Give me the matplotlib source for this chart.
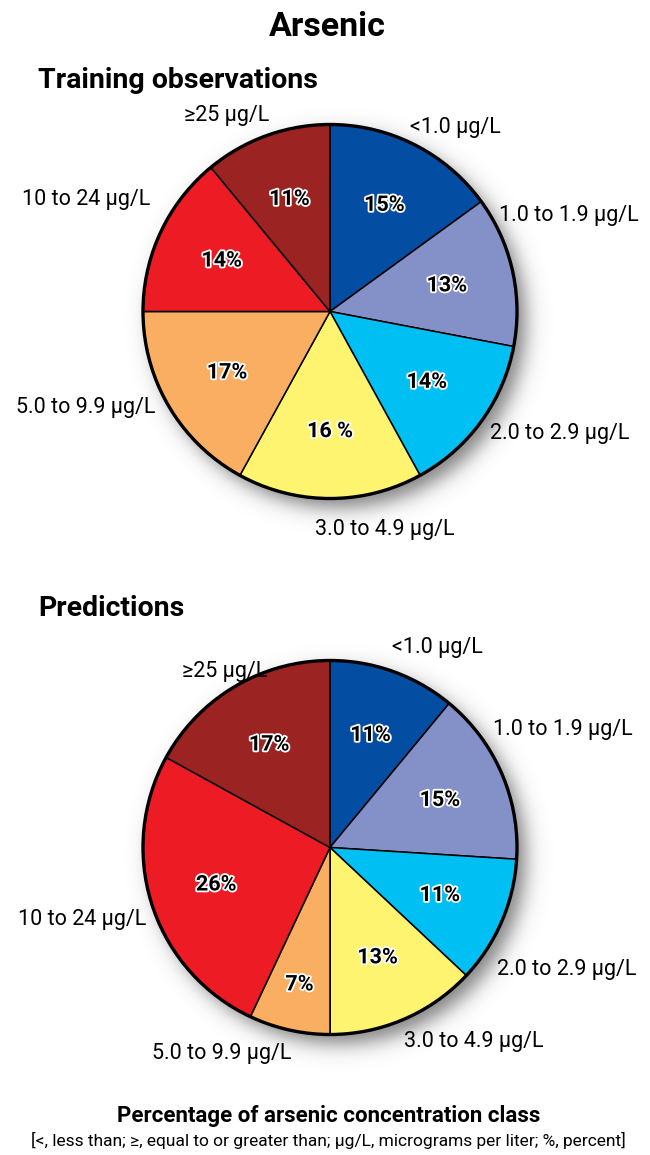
import numpy as np
import matplotlib
matplotlib.use("Agg")
import matplotlib.pyplot as plt
import matplotlib.patheffects as pe
from matplotlib.patches import Circle

# concentration classes, clockwise from 12 o'clock
classes = ["<1.0 µg/L", "1.0 to 1.9 µg/L", "2.0 to 2.9 µg/L", "3.0 to 4.9 µg/L",
           "5.0 to 9.9 µg/L", "10 to 24 µg/L", "\u226525 µg/L"]
colors = ["#034ea2", "#8490c8", "#00bff2", "#fff46f", "#f9ae62", "#ed1c24", "#9b2423"]

training_pct = [15, 13, 14, 16, 17, 14, 11]
training_text = ["15%", "13%", "14%", "16 %", "17%", "14%", "11%"]
prediction_pct = [11, 15, 11, 13, 7, 26, 17]
prediction_text = ["11%", "15%", "11%", "13%", "7%", "26%", "17%"]

W, H = 650, 1155
FONT = ["Roboto", "DejaVu Sans"]


def shadow(ax, cx, cy, r, dx=9, dy=-10, sigma=12):
    xs = np.arange(cx - r - 60, cx + r + 60)
    ys = np.arange(cy - r - 60, cy + r + 60)
    gx, gy = np.meshgrid(xs, ys)
    d = np.hypot(gx - (cx + dx), gy - (cy + dy))
    a = 0.5 * (1 - np.tanh((d - r) / sigma)) * 0.5
    img = np.zeros(gx.shape + (4,))
    img[..., 3] = a
    ax.imshow(img, extent=(xs[0], xs[-1], ys[0], ys[-1]), origin="lower",
              zorder=0, interpolation="bilinear")


def draw_pie(ax, values, texts, cx, cy, r, label_pos):
    shadow(ax, cx, cy, r)
    wedges, _ = ax.pie(values, colors=colors, startangle=90, counterclock=False,
                       center=(cx, cy), radius=r, frame=True,
                       wedgeprops=dict(edgecolor="black", linewidth=1.1, zorder=2))
    ax.add_patch(Circle((cx, cy), r, fill=False, edgecolor="black", linewidth=2.4, zorder=3))
    for w, t, v in zip(wedges, texts, values):
        mid = np.deg2rad((w.theta1 + w.theta2) / 2)
        f = 0.75 if v < 10 else 0.64
        ax.text(cx + f * r * np.cos(mid), cy + f * r * np.sin(mid), t,
                ha="center", va="center", fontsize=15.5, fontweight="bold",
                family=FONT, color="black", zorder=4,
                path_effects=[pe.Stroke(linewidth=2.6, foreground="white"), pe.Normal()])
    for name, (x, y) in zip(classes, label_pos):
        ax.text(x, H - y, name, ha="center", va="center", fontsize=15.5,
                family=FONT, zorder=4)


fig = plt.figure(figsize=(W / 100, H / 100), dpi=100)
ax = fig.add_axes([0, 0, 1, 1])

train_labels = [(455, 127), (569, 216), (560, 433), (385, 530),
                (86, 407), (86, 199), (227, 115)]
pred_labels = [(437, 648), (563, 730), (567, 970), (474, 1041),
               (222, 1053), (82, 920), (225, 671)]

draw_pie(ax, training_pct, training_text, 330, H - 311.5, 187, train_labels)
draw_pie(ax, prediction_pct, prediction_text, 330, H - 847.5, 187, pred_labels)

ax.text(327, H - 27, "Arsenic", ha="center", va="center", fontsize=24.5,
        fontweight="bold", family=FONT)
ax.text(38, H - 81, "Training observations", ha="left", va="center", fontsize=20.5,
        fontweight="bold", family=FONT)
ax.text(38, H - 609, "Predictions", ha="left", va="center", fontsize=20.5,
        fontweight="bold", family=FONT)
ax.text(329, H - 1116, "Percentage of arsenic concentration class", ha="center",
        va="center", fontsize=16, fontweight="bold", family=FONT)
ax.text(328, H - 1140,
        "[<, less than; \u2265, equal to or greater than; µg/L, micrograms per liter; %, percent]",
        ha="center", va="center", fontsize=12.5, family=FONT)

ax.set_xlim(0, W)
ax.set_ylim(0, H)
ax.set_aspect("equal")
ax.axis("off")

fig.savefig("out.png", dpi=100)
